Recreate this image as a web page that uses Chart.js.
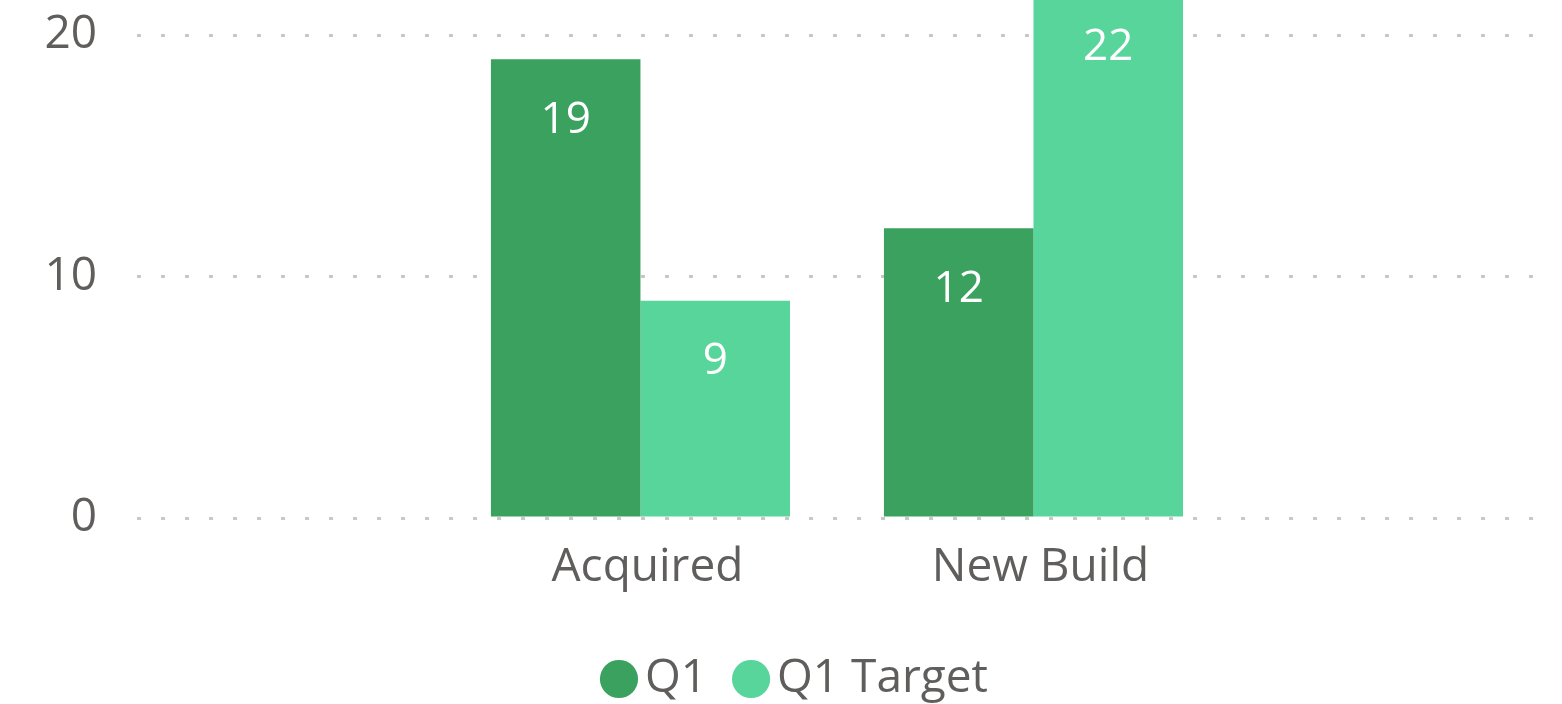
<!DOCTYPE html>
<html>
<head>
<meta charset="utf-8">
<script src="https://cdn.jsdelivr.net/npm/chart.js@4.4.0/dist/chart.umd.min.js"></script>
<style>
  html, body { margin: 0; padding: 0; background: #fff; overflow: hidden; }
  #wrap { position: relative; width: 1562px; height: 712px; }
</style>
</head>
<body>
<div id="wrap"><canvas id="chart"></canvas></div>
<script>
// data
var categories = ['Acquired', 'New Build'];
var q1Values = [19, 12];
var q1TargetValues = [9, 22];
var yTicks = [0, 10, 20];

var textGrey = '#605E5C';
var fontFamily = '"Segoe UI", "Open Sans", sans-serif';

// white value labels inside the top of each bar
var barLabels = {
    id: 'barLabels',
    afterDatasetsDraw: function(chart) {
        var ctx = chart.ctx;
        ctx.save();
        ctx.fillStyle = '#ffffff';
        ctx.font = '44px ' + fontFamily;
        ctx.textAlign = 'center';
        ctx.textBaseline = 'middle';
        chart.data.datasets.forEach(function(ds, i) {
            chart.getDatasetMeta(i).data.forEach(function(bar, j) {
                ctx.fillText(String(ds.data[j].y), bar.x, bar.y + 61);
            });
        });
        ctx.restore();
    }
};

// legend sits a bit right of the canvas centre in the original
var legendNudge = {
    id: 'legendNudge',
    afterLayout: function(chart) {
        chart.legend.left += 35;
        chart.legend.right += 35;
    }
};

function toPoints(values) {
    return values.map(function(v, i) { return { x: i, y: v }; });
}

var ctx = document.getElementById('chart').getContext('2d');
var myChart = new Chart(ctx, {
    type: 'bar',
    data: {
        datasets: [{
            label: 'Q1',
            data: toPoints(q1Values),
            backgroundColor: '#3BA15F',
            borderWidth: 0
        }, {
            label: 'Q1 Target',
            data: toPoints(q1TargetValues),
            backgroundColor: '#57D59B',
            borderWidth: 0
        }]
    },
    options: {
        responsive: true,
        maintainAspectRatio: false,
        animation: false,
        categoryPercentage: 0.761,
        barPercentage: 1,
        layout: { padding: { left: 0, right: 28, top: 0, bottom: 0 } },
        scales: {
            x: {
                type: 'linear',
                offset: false,
                min: -1.281,
                max: 2.2735,
                grid: { display: false },
                border: { display: false },
                afterBuildTicks: function(scale) {
                    scale.ticks = categories.map(function(c, i) { return { value: i }; });
                },
                afterFit: function(scale) { scale.height = 97; },
                ticks: {
                    autoSkip: false,
                    maxRotation: 0,
                    padding: 14,
                    labelOffset: 7,
                    color: textGrey,
                    font: { family: fontFamily, size: 46 },
                    callback: function(value) { return categories[value]; }
                }
            },
            y: {
                min: 0,
                max: 21.45,
                afterBuildTicks: function(scale) {
                    scale.ticks = yTicks.map(function(v) { return { value: v }; });
                },
                afterFit: function(scale) {
                    scale.width = 137;
                    scale.paddingTop = 0;
                    scale.paddingBottom = 0;
                },
                grid: {
                    color: '#C8C8C8',
                    lineWidth: 3,
                    drawTicks: false
                },
                border: { display: false, dash: [4, 20] },
                ticks: {
                    padding: 40,
                    color: textGrey,
                    font: { family: fontFamily, size: 46 }
                }
            }
        },
        plugins: {
            legend: {
                position: 'bottom',
                labels: {
                    usePointStyle: true,
                    pointStyle: 'circle',
                    boxWidth: 6,
                    boxHeight: 27,
                    padding: 41,
                    color: textGrey,
                    font: { family: fontFamily, size: 46 }
                }
            },
            tooltip: { enabled: false }
        }
    },
    plugins: [barLabels, legendNudge]
});
</script>
</body>
</html>
